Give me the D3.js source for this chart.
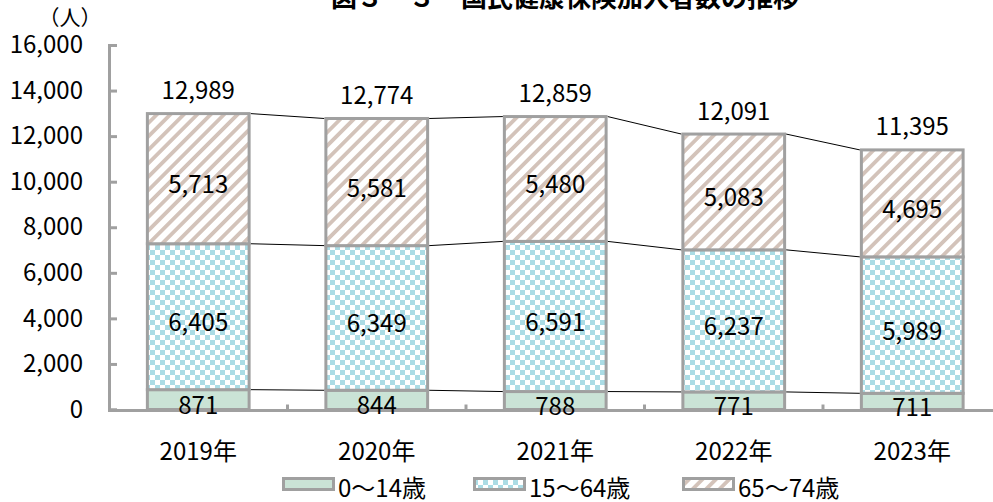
<!DOCTYPE html>
<html lang="ja">
<head>
<meta charset="utf-8">
<script src="https://cdn.jsdelivr.net/npm/d3@7"></script>
<style>
  html, body { margin: 0; padding: 0; background: #fff; }
  svg { display: block; font-family: "Noto Sans CJK JP", "Noto Sans", sans-serif; }
</style>
</head>
<body>
<svg id="chart" width="993" height="502"></svg>
<script>
// 国民健康保険加入者数（年齢区分別）
const years = ["2019年", "2020年", "2021年", "2022年", "2023年"];
const age0to14 = [871, 844, 788, 771, 711];
const age15to64 = [6405, 6349, 6591, 6237, 5989];
const age65to74 = [5713, 5581, 5480, 5083, 4695];
const totals = [12989, 12774, 12859, 12091, 11395];
const seriesNames = ["0～14歳", "15～64歳", "65～74歳"];
const yTicks = [0, 2000, 4000, 6000, 8000, 10000, 12000, 14000, 16000];

const svg = d3.select("#chart");
const fmt = d3.format(",");
const GRAY = "#a0a0a0";

// fill patterns
const defs = svg.append("defs");
const checker = defs.append("pattern").attr("id", "pat-checker")
  .attr("patternUnits", "userSpaceOnUse").attr("width", 10).attr("height", 10);
checker.append("rect").attr("width", 10).attr("height", 10).attr("fill", "#ffffff");
checker.append("rect").attr("width", 5).attr("height", 5).attr("fill", "#abdce5");
checker.append("rect").attr("x", 5).attr("y", 5).attr("width", 5).attr("height", 5).attr("fill", "#abdce5");

const stripes = defs.append("pattern").attr("id", "pat-stripes")
  .attr("patternUnits", "userSpaceOnUse").attr("width", 9.5).attr("height", 9.5)
  .attr("patternTransform", "rotate(45)");
stripes.append("rect").attr("width", 9.5).attr("height", 9.5).attr("fill", "#ffffff");
stripes.append("rect").attr("width", 3.8).attr("height", 9.5).attr("fill", "#d3c3ba");

const fills = ["#cae3d6", "url(#pat-checker)", "url(#pat-stripes)"];

// scales
const x = d3.scaleBand().domain(years).range([109, 1001.5])
  .paddingInner(0.43).paddingOuter(0.215);
const y = d3.scaleLinear().domain([0, 16000]).range([409.5, 45]);

// stacked data
const rows = years.map((yr, i) => ({ year: yr, a: age0to14[i], b: age15to64[i], c: age65to74[i] }));
const stack = d3.stack().keys(["a", "b", "c"])(rows);

// title (partly above the visible area)
svg.append("text")
  .attr("x", 565).attr("y", 7)
  .attr("text-anchor", "middle")
  .attr("font-size", 26).attr("font-weight", "bold")
  .text("図３－３　国民健康保険加入者数の推移");

// unit label
svg.append("text")
  .attr("x", 70).attr("y", 16)
  .attr("text-anchor", "middle").attr("dominant-baseline", "central")
  .attr("font-size", 21)
  .text("（人）");

// y axis
const yAxis = svg.append("g").attr("transform", "translate(109,0)")
  .call(d3.axisLeft(y).tickValues(yTicks).tickFormat(fmt)
    .tickSize(-8).tickSizeOuter(-8).tickPadding(26));
yAxis.selectAll("path, line").attr("stroke", GRAY).attr("stroke-width", 3);
yAxis.select(".domain").attr("stroke-linejoin", "miter");
yAxis.selectAll("text").attr("font-size", 24).attr("fill", "#000")
  .attr("font-family", "\"Noto Sans CJK JP\", sans-serif");

// connector lines between adjacent bars
const bw = x.bandwidth();
stack.forEach(layer => {
  for (let i = 0; i < years.length - 1; i++) {
    svg.append("line")
      .attr("x1", x(years[i]) + bw + 1.5).attr("y1", y(layer[i][1]))
      .attr("x2", x(years[i + 1]) - 1.5).attr("y2", y(layer[i + 1][1]))
      .attr("stroke", "#000").attr("stroke-width", 1);
  }
});

// bars
stack.forEach((layer, k) => {
  svg.append("g").selectAll("rect").data(layer).join("rect")
    .attr("x", d => x(d.data.year))
    .attr("y", d => y(d[1]))
    .attr("width", bw)
    .attr("height", d => y(d[0]) - y(d[1]))
    .attr("fill", fills[k])
    .attr("stroke", GRAY).attr("stroke-width", 3);
});

// x axis baseline with category separators
const xBase = y(0);
svg.append("line").attr("x1", 108).attr("x2", 993).attr("y1", xBase + 1).attr("y2", xBase + 1)
  .attr("stroke", GRAY).attr("stroke-width", 3);
const bounds = years.slice(1).map(yr => x(yr) - x.step() * x.paddingInner() / 2);
svg.append("g").selectAll("line").data(bounds).join("line")
  .attr("x1", d => d).attr("x2", d => d)
  .attr("y1", xBase + 1).attr("y2", xBase - 5)
  .attr("stroke", GRAY).attr("stroke-width", 3);

// segment value labels
stack.forEach(layer => {
  svg.append("g").selectAll("text").data(layer).join("text")
    .attr("x", d => x(d.data.year) + bw / 2)
    .attr("y", d => (y(d[0]) + y(d[1])) / 2 + 4)
    .attr("text-anchor", "middle").attr("dominant-baseline", "central")
    .attr("font-size", 24)
    .text(d => fmt(d[1] - d[0]));
});

// total labels
svg.append("g").selectAll("text").data(years).join("text")
  .attr("x", d => x(d) + bw / 2)
  .attr("y", (d, i) => y(totals[i]) - 25)
  .attr("text-anchor", "middle").attr("dominant-baseline", "central")
  .attr("font-size", 24)
  .text((d, i) => fmt(totals[i]));

// category labels
svg.append("g").selectAll("text").data(years).join("text")
  .attr("x", d => x(d) + bw / 2)
  .attr("y", 449)
  .attr("text-anchor", "middle").attr("dominant-baseline", "central")
  .attr("font-size", 24)
  .text(d => d);

// legend
const legendX = [282, 473, 682];
const legend = svg.append("g").selectAll("g").data(seriesNames).join("g")
  .attr("transform", (d, i) => `translate(${legendX[i]},0)`);
legend.append("rect")
  .attr("x", 1.5).attr("y", 478.5).attr("width", 50).attr("height", 11)
  .attr("fill", (d, i) => fills[i])
  .attr("stroke", GRAY).attr("stroke-width", 3);
legend.append("text")
  .attr("x", 56).attr("y", 486)
  .attr("dominant-baseline", "central")
  .attr("font-size", 24)
  .text(d => d);
</script>
</body>
</html>
